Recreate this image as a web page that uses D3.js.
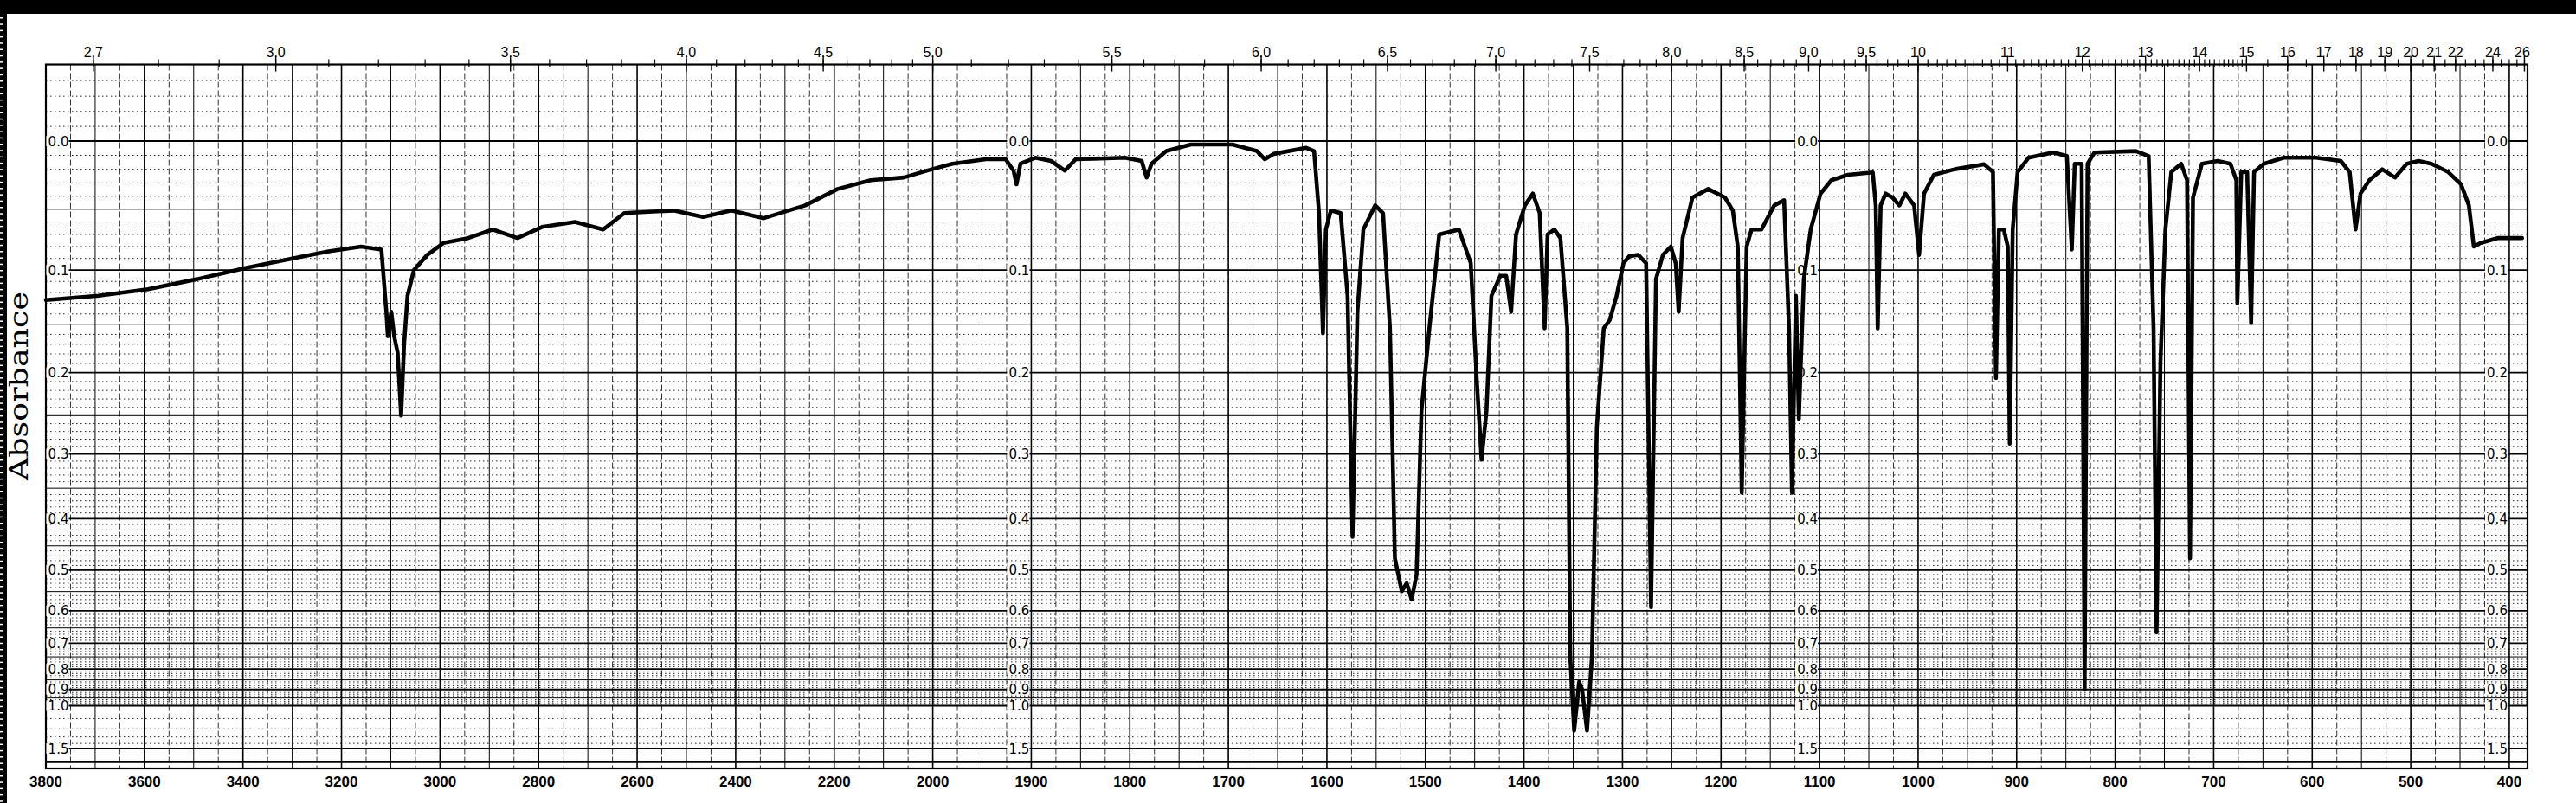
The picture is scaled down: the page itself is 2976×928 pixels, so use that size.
<!DOCTYPE html>
<html><head><meta charset="utf-8">
<script src="https://cdn.jsdelivr.net/npm/d3@7"></script>
<style>html,body{margin:0;padding:0;background:#fff;} svg{display:block}</style>
</head><body>
<script>
// ---------------- data ----------------
const wavenumbers = [3800,3693,3593,3493,3393,3293,3226,3160,3119,3109,3106,3099,3093,3086,3079,3073,3066,3053,3026,2993,2943,2893,2843,2793,2726,2669,2626,2526,2466,2409,2343,2259,2193,2126,2059,2002,
1980,1946,1926,1918,1915,1911,1896,1880,1866,1855,1805,1788,1783,1778,1763,1738,1696,1671,1663,1654,1621,1613,1608,1604,1601,1596,1586,1579,1574,1569,1563,1551,1543,1536,1531,1524,1519,1514,1509,1504,1496,1486,1466,1454,1448,1443,1438,1433,1424,1418,1413,1408,1399,1391,1384,1379,1376,1369,1363,1356,1353,1349,1344,1341,1336,1331,1326,1319,
1313,1306,1299,1293,1284,1276,1271,1266,1259,1251,1246,1243,1239,1229,1213,1196,1188,1183,1179,1174,1169,1159,1146,1136,1131,1128,1124,1121,1116,1109,1099,1088,1071,1046,1043,1041,1038,1033,1026,1019,1013,1004,999,994,984,963,933,924,921,918,913,909,907,904,899,888,863,849,844,841,834,831,828,821,779,766,761,758,754,749,743,733,727,724,721,712,696,683,677,676,672,666,662,659,649,629,596,571,562,556,551,542,529,516,504,492,479,462,449,441,436,429,412,387];
const absorbance = [0.127,0.123,0.117,0.108,0.098,0.0895,0.084,0.080,0.0825,0.138,0.162,0.138,0.162,0.179,0.25,0.17,0.123,0.10,0.087,0.077,0.073,0.066,0.073,0.064,0.060,0.066,0.053,0.051,0.056,0.051,0.057,0.047,0.0345,0.028,0.026,0.020,
0.016,0.0128,0.0128,0.021,0.031,0.016,0.0117,0.014,0.021,0.0128,0.0117,0.014,0.026,0.016,0.007,0.0024,0.0024,0.007,0.0128,0.009,0.0047,0.007,0.053,0.159,0.066,0.051,0.053,0.123,0.433,0.138,0.066,0.047,0.053,0.154,0.475,0.549,0.53,0.57,0.51,0.244,0.154,0.07,0.066,0.094,0.206,0.308,0.244,0.123,0.105,0.105,0.138,0.070,0.047,0.038,0.053,0.154,0.07,0.066,0.073,0.154,0.75,1.22,0.86,0.90,1.22,0.75,0.264,0.154,
0.146,0.123,0.094,0.088,0.087,0.094,0.59,0.108,0.087,0.080,0.094,0.138,0.073,0.041,0.0345,0.041,0.051,0.080,0.357,0.080,0.066,0.066,0.047,0.043,0.154,0.357,0.123,0.254,0.108,0.066,0.038,0.028,0.024,0.0223,0.047,0.154,0.047,0.038,0.041,0.047,0.038,0.047,0.087,0.038,0.024,0.020,0.0164,0.022,0.206,0.066,0.066,0.080,0.286,0.066,0.022,0.0117,0.008,0.0105,0.0825,0.016,0.016,0.90,0.016,0.008,0.007,0.0105,0.154,0.664,0.188,0.066,0.022,0.016,0.028,0.475,0.041,0.016,0.014,0.016,0.028,0.13,0.022,0.022,0.149,0.022,0.016,0.0117,0.0117,0.014,0.022,0.066,0.038,0.028,0.020,0.026,0.016,0.014,0.016,0.022,0.031,0.047,0.080,0.077,0.073,0.073];
const bottomTicks = [3800,3600,3400,3200,3000,2800,2600,2400,2200,2000,1900,1800,1700,1600,1500,1400,1300,1200,1100,1000,900,800,700,600,500,400];
const micronLabels = ["2.7","3.0","3.5","4.0","4.5","5.0","5.5","6.0","6.5","7.0","7.5","8.0","8.5","9.0","9.5","10","11","12","13","14","15","16","17","18","19","20","21","22","24","26"];
const absLabels = ["0.0","0.1","0.2","0.3","0.4","0.5","0.6","0.7","0.8","0.9","1.0","1.5"];
const labelColumns = [3750,1900,1100,400];
const yTitle = "Absorbance";

// ---------------- layout ----------------
const W=2976,H=928;
const x = d3.scaleLinear().domain([3800,2000,381.5]).range([53,1077.6,2920]);
const tScale = d3.scaleLinear().domain([1,0]).range([163,888]);
const y = a => tScale(Math.pow(10,-a));
const X0=x(3800), X1=x(381.5), YT=y(-0.05), YB=tScale(0);

const svg = d3.select("body").append("svg").attr("width",W).attr("height",H);
svg.append("rect").attr("width",W).attr("height",H).attr("fill","#fff");

// vertical grid
const vLines=[];
for(let w=3750; w>2000; w-=50) vLines.push({w, k: w%200===0?2:(w%100===0?1:0)});
for(let w=2000; w>=400; w-=25) vLines.push({w, k: w%100===0?2:(w%50===0?1:0)});
svg.append("g").selectAll("line").data(vLines).join("line")
  .attr("x1",d=>x(d.w)).attr("x2",d=>x(d.w)).attr("y1",YT).attr("y2",YB)
  .attr("stroke","#000")
  .attr("stroke-width",d=>d.k===2?1.6:1)
  .attr("stroke-dasharray",d=>d.k===0?"7,3":null)
  .attr("opacity",d=>d.k===0?0.8:1);

// horizontal grid
const hLines=[];
for(let i=-4;i<=100;i++) hLines.push({a:i/100, k: i%10===0?2:(Math.abs(i)%5===0?1:0)});
[1.1,1.2,1.3,1.4].forEach(a=>hLines.push({a,k:0}));
hLines.push({a:1.5,k:2}); hLines.push({a:2.0,k:2});
svg.append("g").selectAll("line").data(hLines).join("line")
  .attr("x1",X0).attr("x2",X1).attr("y1",d=>y(d.a)).attr("y2",d=>y(d.a))
  .attr("stroke","#000")
  .attr("stroke-width",d=>d.k===2?1.8:1)
  .attr("stroke-dasharray",d=>d.k===0?"1.5,3.5":null)
  .attr("opacity",d=>d.k===0?0.85:1);

// frame
svg.append("rect").attr("x",X0).attr("y",YT).attr("width",X1-X0).attr("height",YB-YT)
  .attr("fill","none").attr("stroke","#000").attr("stroke-width",2.2);

// top micron ticks
const micronMinor=[];
for(let m=26;m<=150;m++) micronMinor.push(m/10);
for(let m=155;m<=260;m+=5) micronMinor.push(m/10);
svg.append("g").selectAll("line").data(micronMinor.filter(m=>{const px=x(1e4/m);return px>=X0&&px<=X1;})).join("line")
  .attr("x1",m=>x(1e4/m)).attr("x2",m=>x(1e4/m)).attr("y1",YT-6).attr("y2",YT+3)
  .attr("stroke","#000").attr("stroke-width",1.2);
svg.append("g").selectAll("line").data(micronLabels.map(Number).filter(m=>x(1e4/m)<=X1+1)).join("line")
  .attr("x1",m=>x(1e4/m)).attr("x2",m=>x(1e4/m)).attr("y1",YT-10).attr("y2",YT+8)
  .attr("stroke","#000").attr("stroke-width",1.4);
svg.append("g").selectAll("text").data(micronLabels).join("text")
  .attr("x",d=>Math.min(x(1e4/Number(d)),X1-6)).attr("y",66)
  .attr("text-anchor","middle")
  .style("font-family","'Liberation Sans', Arial, sans-serif").style("font-size","16px")
  .text(d=>d);

// absorbance labels in columns
const colG = svg.append("g");
labelColumns.forEach(w=>{
  const xr = x(w)-2;
  absLabels.forEach(l=>{
    const yy = y(Number(l));
    colG.append("rect").attr("x",xr-26).attr("y",yy-6).attr("width",26).attr("height",12).attr("fill","#fff");
    colG.append("text").attr("x",xr).attr("y",yy+5.5).attr("text-anchor","end")
      .style("font-family","'DejaVu Sans', sans-serif").style("font-size","15px")
      .text(l);
  });
});

// bottom wavenumber labels
svg.append("g").selectAll("text").data(bottomTicks).join("text")
  .attr("x",d=>x(d)).attr("y",909).attr("text-anchor","middle")
  .style("font-family","'Liberation Sans', Arial, sans-serif").style("font-size","17px").style("font-weight","bold")
  .text(d=>d);

// y title
svg.append("text").attr("transform","translate(32,446) rotate(-90)")
  .attr("text-anchor","middle")
  .style("font-family","'DejaVu Serif', serif").style("font-size","30px")
  .attr("textLength",218).attr("lengthAdjust","spacingAndGlyphs")
  .text(yTitle);

// spectrum
const pts = wavenumbers.map((w,i)=>({w,a:absorbance[i]}));
const line = d3.line().x(d=>x(d.w)).y(d=>y(d.a));
svg.append("path").datum(pts).attr("d",line).attr("fill","none")
  .attr("stroke","#000").attr("stroke-width",4.6).attr("stroke-linejoin","round").attr("stroke-linecap","round");

// black borders (scan artifacts)
svg.append("rect").attr("x",0).attr("y",0).attr("width",W).attr("height",16).attr("fill","#000");
svg.append("rect").attr("x",0).attr("y",0).attr("width",8).attr("height",H).attr("fill","#000");
const dashes=d3.range(20,H,7.3);
svg.append("g").selectAll("rect").data(dashes).join("rect")
  .attr("x",0).attr("y",d=>d).attr("width",4).attr("height",1.5).attr("fill","#fff");
</script>
</body></html>
